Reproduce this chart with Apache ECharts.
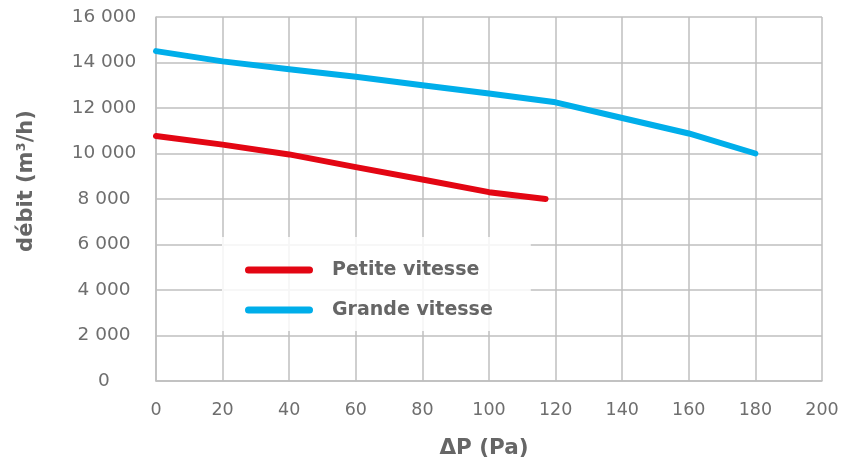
<!DOCTYPE html>
<html>
<head>
<meta charset="utf-8">
<script src="https://cdn.jsdelivr.net/npm/echarts@6/dist/echarts.min.js"></script>
<style>
  html, body { margin: 0; padding: 0; background: #fff; }
  #chart { width: 857px; height: 464px; }
</style>
</head>
<body>
<div id="chart"></div>
<script>
// pressure (Pa) and flow (m3/h)
const pressureGrande = [0, 20, 40, 60, 80, 100, 120, 140, 160, 180]
const grandeVitesse = [14500, 14050, 13700, 13370, 13000, 12640, 12250, 11560, 10880, 10000]
const pressurePetite = [0, 20, 40, 60, 80, 100, 117]
const petiteVitesse = [10770, 10390, 9960, 9400, 8860, 8300, 8000]
const seriesNames = ['Petite vitesse', 'Grande vitesse']

const font = '"DejaVu Sans", Verdana, sans-serif'
const gridColor = '#bfbfbf'

function pairs(xs, ys) {
  return xs.map((x, i) => [x, ys[i]])
}
function thousands(v) {
  return String(v).replace(/\B(?=(\d{3})+(?!\d))/g, ' ')
}

const chart = echarts.init(document.getElementById('chart'), null, { renderer: 'canvas' })
chart.setOption({
  animation: false,
  textStyle: { fontFamily: font },
  grid: {
    left: 156,
    right: 35,
    top: 17,
    bottom: 83,
    containLabel: false,
    outerBoundsMode: 'none'
  },
  legend: {
    orient: 'vertical',
    left: 222,
    top: 237,
    padding: [23, 38, 11, 23],
    backgroundColor: 'rgba(255,255,255,0.85)',
    itemWidth: 68,
    itemHeight: 7,
    itemGap: 20,
    icon: 'path://M3.5,0L64.5,0A3.5,3.5,0,0,1,64.5,7L3.5,7A3.5,3.5,0,0,1,3.5,0Z',
    textStyle: {
      fontFamily: font,
      fontSize: 19,
      fontWeight: 'bold',
      color: '#666666',
      padding: [0, 0, 0, 14],
      lineHeight: 20
    },
    data: seriesNames
  },
  xAxis: {
    type: 'value',
    min: 0,
    max: 200,
    interval: 20,
    name: 'ΔP (Pa)',
    nameLocation: 'middle',
    nameGap: 56,
    nameTextStyle: {
      fontFamily: font, fontSize: 21.5, fontWeight: 'bold', color: '#666666',
      padding: [0, 10, 0, 0]
    },
    axisLine: { show: true, lineStyle: { color: gridColor, width: 1.5 } },
    axisTick: { show: false },
    axisLabel: { fontFamily: font, fontSize: 17.5, color: '#6e6e6e', margin: 20 },
    splitLine: { show: true, lineStyle: { color: gridColor, width: 1.5 } }
  },
  yAxis: {
    type: 'value',
    min: 0,
    max: 16000,
    interval: 2000,
    name: 'débit (m³/h)',
    nameLocation: 'middle',
    nameGap: 119,
    nameTextStyle: {
      fontFamily: font, fontSize: 21, fontWeight: 'bold', color: '#666666',
      padding: [0, 0, 0, 36]
    },
    axisLine: { show: true, lineStyle: { color: gridColor, width: 1.5 } },
    axisTick: { show: false },
    axisLabel: {
      fontFamily: font,
      fontSize: 18.5,
      color: '#6e6e6e',
      align: 'center',
      margin: 52,
      formatter: thousands
    },
    splitLine: { show: true, lineStyle: { color: gridColor, width: 1.5 } }
  },
  series: [
    {
      name: seriesNames[0],
      type: 'line',
      data: pairs(pressurePetite, petiteVitesse),
      showSymbol: false,
      symbol: 'none',
      color: '#e30613',
      lineStyle: { width: 6, color: '#e30613', cap: 'round', join: 'round' },
      z: 3
    },
    {
      name: seriesNames[1],
      type: 'line',
      data: pairs(pressureGrande, grandeVitesse),
      showSymbol: false,
      symbol: 'none',
      color: '#00aeea',
      lineStyle: { width: 6, color: '#00aeea', cap: 'round', join: 'round' },
      z: 3
    }
  ]
})
</script>
</body>
</html>
